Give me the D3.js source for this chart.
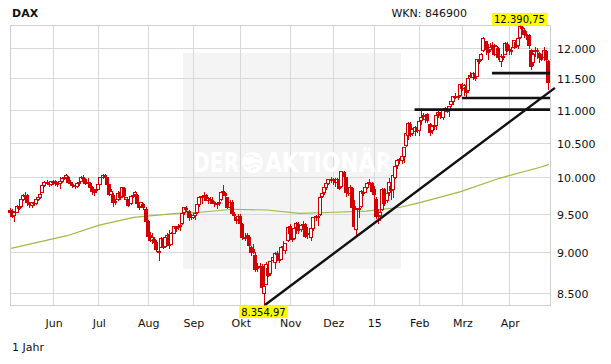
<!DOCTYPE html>
<html><head><meta charset="utf-8">
<script src="https://cdn.jsdelivr.net/npm/d3@7"></script>
<style>
body{margin:0;background:#fff}
svg{display:block}
text{font-family:"DejaVu Sans",Verdana,sans-serif}
</style>
</head><body>
<svg id="c" width="611" height="364"></svg>
<script>
// ---- calendar (trading days, Xetra) ----
const firstDay = "2014-05-05", lastDay = "2015-04-29";
const holidays = ["2014-12-24","2014-12-25","2014-12-26","2014-12-31","2015-01-01","2015-04-03","2015-04-06"];

// ---- daily OHLC (DAX) ----
const open = [
 9556,9540,9480,9530,9600,9600,9705,9755,9760,9650,9620,9660,9640,9700,9725,9800,9895,9940,9930,9910,
 9950,9945,9915,9925,9955,9990,10005,10010,9935,9900,9890,9880,9925,9950,10000,9980,9925,9920,9860,9800,9820,
 9840,9910,10000,10030,10000,9900,9770,9760,9670,9700,9790,9740,9850,9700,9680,9640,9740,9770,9760,9640,9600,9630,9570,
 9400,9220,9160,9170,9130,9000,9070,9170,9080,9200,9230,9110,9250,9320,9320,9350,9380,9520,9580,9540,9470,
 9460,9480,9520,9630,9720,9760,9760,9680,9700,9690,9650,9640,9640,9700,9810,9780,9720,9590,9660,9490,9450,9430,
 9470,9370,9180,9220,9200,9060,9040,8970,8800,8810,8830,8500,8610,8800,8740,8900,8880,8980,8960,8920,9070,9030,9150,
 9340,9250,9180,9320,9370,9300,9350,9360,9230,9250,9200,9310,9450,9460,9500,9740,9790,9860,9920,9980,
 9970,9950,9930,9980,9880,10080,10000,9790,9780,9850,9600,9300,9580,9600,9800,9800,9870,9940,9920,
 9830,9700,9480,9480,9560,9830,9680,9790,9880,9830,10000,10170,10240,10240,10300,10460,10610,10780,10650,10680,10740,
 10690,10840,10900,10850,10930,10780,10690,10770,10770,10930,10950,10890,11020,10990,10990,11080,11130,11220,11220,11230,
 11390,11340,11350,11300,11530,11520,11560,11540,11790,11820,11960,12110,11990,11980,12030,12040,11890,12000,11780,11860,11900,12070,
 11980,11960,12010,12100,12040,12190,12360,12300,12210,12210,11960,11760,11950,11960,11920,11850,11850,11940,11780
];
const high = [
 9572,9560,9540,9620,9625,9710,9770,9800,9770,9660,9665,9690,9705,9735,9775,9900,9945,9960,9945,9950,
 9965,9960,9940,10010,10000,10020,10050,10020,9960,9940,9920,9930,9950,10020,10030,9990,9990,9930,9880,9830,9860,
 9920,10010,10050,10040,10010,9910,9830,9780,9700,9810,9800,9870,9870,9730,9700,9740,9770,9810,9770,9660,9660,9650,9590,
 9420,9260,9240,9190,9160,9050,9200,9180,9210,9250,9290,9260,9340,9340,9370,9360,9520,9590,9600,9550,9490,
 9490,9520,9640,9740,9760,9790,9770,9720,9720,9720,9670,9660,9680,9810,9891,9790,9730,9680,9680,9520,9470,9490,
 9490,9380,9240,9250,9220,9080,9110,9000,8860,8860,8850,8610,8870,8830,8890,8950,9000,9010,8990,9080,9140,9120,9340,
 9370,9270,9330,9390,9390,9360,9400,9380,9330,9280,9310,9460,9480,9480,9740,9800,9870,9920,9980,10000,
 9990,9990,9990,10020,10093,10090,10010,9840,9890,9860,9680,9580,9600,9820,9850,9880,9930,9980,9930,
 9880,9720,9560,9560,9850,9850,9800,9990,9900,10040,10180,10250,10270,10310,10440,10660,10810,10810,10720,10750,10760,
 10840,10990,10950,10920,10950,10790,10770,10790,10930,10980,10960,11030,11040,11050,11060,11140,11220,11260,11250,11410,
 11420,11400,11370,11520,11600,11600,11580,11820,11850,11920,12180,12120,12060,12080,12090,12060,12040,12010,11900,11900,12100,12090,
 12050,12020,12140,12140,12180,12390.75,12380,12330,12280,12230,11980,11910,12020,11990,11930,11900,12010,11960,11790
];
const low = [
 9485,9450,9410,9520,9560,9595,9690,9735,9620,9590,9590,9620,9625,9680,9710,9795,9880,9910,9880,9890,
 9910,9890,9880,9850,9940,9980,9990,9920,9900,9860,9850,9860,9890,9945,9960,9900,9910,9850,9770,9760,9800,
 9830,9900,9990,9990,9890,9760,9740,9600,9630,9690,9700,9730,9740,9650,9600,9630,9720,9760,9620,9560,9590,9560,9390,
 9190,9140,9120,9050,9020,8903,9060,9050,9060,9170,9050,9100,9240,9270,9300,9290,9370,9500,9540,9420,9430,
 9440,9430,9510,9600,9640,9730,9680,9640,9640,9640,9600,9580,9620,9690,9790,9720,9580,9560,9500,9450,9380,9400,
 9360,9170,9150,9180,9070,8960,8990,8770,8760,8700,8550,8354.97,8600,8700,8720,8870,8800,8930,8880,8910,9050,8990,9140,
 9220,9140,9170,9240,9250,9270,9320,9200,9180,9200,9150,9290,9420,9350,9480,9720,9770,9840,9900,9940,
 9900,9880,9900,9840,9870,9990,9740,9750,9760,9580,9320,9219,9450,9590,9760,9790,9850,9900,9800,
 9700,9440,9380,9420,9550,9620,9660,9760,9700,9720,9990,10130,10200,10200,10220,10450,10560,10600,10620,10610,10660,
 10610,10780,10860,10810,10810,10610,10640,10700,10700,10890,10870,10860,10980,10960,10900,11060,11080,11180,11160,11220,
 11310,11230,11220,11270,11510,11480,11460,11530,11740,11800,11950,11900,11820,11940,11970,11880,11840,11810,11700,11820,11890,11940,
 11900,11900,11990,12010,12000,12170,12280,12190,12150,11990,11650,11710,11870,11830,11770,11790,11800,11790,11330
];
const close = [
 9529,9467,9521,9607,9581,9702,9754,9755,9656,9630,9659,9639,9697,9721,9768,9890,9940,9939,9902,9943,
 9950,9920,9926,9948,9987,10008,10028,9939,9929,9912,9883,9920,9935,10004,9987,9920,9938,9867,9804,9815,9833,
 9902,10003,10029,10009,9906,9772,9808,9659,9666,9783,9720,9859,9753,9720,9612,9734,9753,9797,9644,9593,9653,9593,9407,
 9210,9154,9189,9130,9038,9010,9180,9069,9199,9225,9092,9245,9334,9314,9339,9339,9510,9588,9569,9462,9470,
 9480,9507,9627,9724,9747,9758,9686,9710,9691,9651,9659,9632,9661,9798,9799,9749,9596,9662,9510,9490,9422,9474,
 9382,9195,9196,9209,9086,9005,9005,8788,8812,8825,8571,8582,8850,8717,8886,8940,8987,8988,8902,9068,9083,9114,9326,
 9252,9167,9315,9378,9291,9351,9369,9210,9249,9252,9307,9456,9473,9472,9733,9785,9861,9915,9975,9980,
 9963,9934,9972,9851,10087,10014,9793,9800,9862,9595,9334,9563,9564,9811,9787,9865,9922,9927,9806,
 9765,9473,9469,9518,9838,9648,9781,9941,9818,10032,10167,10242,10257,10299,10435,10649,10798,10628,10710,10738,10694,
 10828,10891,10911,10905,10846,10664,10753,10752,10919,10963,10924,11015,11000,11001,11050,11130,11206,11211,11210,11401,
 11345,11390,11280,11504,11551,11582,11500,11806,11799,11901,12167,11980,11922,12018,12040,11896,12024,11843,11865,11868,12086,11966,
 11969,11967,12124,12035,12166,12375,12338,12228,12227,12039,11689,11892,11958,11939,11837,11811,11967,11811,11432
];

// ---- 200-day moving average (read at points) ----
const maDates  = ["2014-05-05","2014-06-10","2014-07-01","2014-07-23","2014-08-20","2014-09-04","2014-09-25","2014-10-17","2014-11-07","2014-12-01","2014-12-22","2015-01-20","2015-02-02","2015-02-27","2015-03-25","2015-04-23","2015-04-29"];
const maValues = [9049,9211,9350,9452,9506,9520,9560,9550,9506,9520,9536,9587,9649,9800,9986,10142,10184];

// ---- drawn support lines ----
const levelValues = [11000, 11180, 11580];
const levelStarts = ["2015-01-29","2015-03-02","2015-03-20"];
const trendDates  = ["2014-10-16","2015-04-29"];
const trendValues = [8354.97, 11270];

// ---- axes ----
const yTicks = [8500,9000,9500,10000,10500,11000,11500,12000];
const monthTicks  = ["2014-06-02","2014-07-01","2014-08-01","2014-09-01","2014-10-01","2014-11-03","2014-12-01","2015-01-02","2015-02-02","2015-03-02","2015-04-01"];
const monthLabels = ["Jun","Jul","Aug","Sep","Okt","Nov","Dez","15","Feb","Mrz","Apr"];

// ---- build ----
const fmtDay = d3.utcFormat("%Y-%m-%d");
const parse = d3.utcParse("%Y-%m-%d");
const dates = d3.utcDay.range(parse(firstDay), d3.utcDay.offset(parse(lastDay),1))
  .filter(d => d.getUTCDay()!==0 && d.getUTCDay()!==6 && !holidays.includes(fmtDay(d)))
  .map(fmtDay);

const de = d3.formatLocale({decimal:",", thousands:".", grouping:[3], currency:["","€"]});
const fInt = de.format(",.0f"), fDec = de.format(",.2f");

const L=10, R=550, T=25, B=305;
const x = d3.scaleBand().domain(dates).range([L,R]).padding(0);
const cx = d => x(d) + x.bandwidth()/2;
const yMin = d3.min(low), yMax = d3.max(high);
const y = d3.scaleLog().domain([yMin, yMax]).range([B, T]);

const svg = d3.select("#c");
const red = "#d00000";

// watermark panel
svg.append("rect").attr("x",183).attr("y",53).attr("width",218).attr("height",216).attr("fill","#f4f4f4");

// grid
const grid = svg.append("g").attr("stroke","#d8d8d8").attr("shape-rendering","crispEdges");
grid.selectAll("line.h").data(yTicks).join("line").attr("class","h")
  .attr("x1",L).attr("x2",R).attr("y1",d=>Math.round(y(d))+0.5).attr("y2",d=>Math.round(y(d))+0.5);
grid.selectAll("line.v").data(monthTicks).join("line").attr("class","v")
  .attr("y1",T).attr("y2",B).attr("x1",d=>Math.round(cx(d))-0.5).attr("x2",d=>Math.round(cx(d))-0.5);
svg.append("rect").attr("x",L+0.5).attr("y",T+0.5).attr("width",R-L).attr("height",B-T)
  .attr("fill","none").attr("stroke","#cfcfcf").attr("shape-rendering","crispEdges");

// watermark text
const wm = svg.append("g").attr("fill","#fff").attr("font-weight","bold");
wm.append("text").attr("x",193).attr("y",172).attr("font-size",26)
  .attr("textLength",46).attr("lengthAdjust","spacingAndGlyphs").text("DER");
wm.append("circle").attr("cx",252.5).attr("cy",162.5).attr("r",10.5);
wm.append("path").attr("d","M246,157 q4,-3 8,0 q3,3 6,1 M245,165 q5,2 8,-1 q3,-2 7,1 M251,170 q2,-3 5,-2")
  .attr("fill","none").attr("stroke","#f0f0f0").attr("stroke-width",1.5);
wm.append("text").attr("x",265).attr("y",172).attr("font-size",26)
  .attr("textLength",127).attr("lengthAdjust","spacingAndGlyphs").text("AKTIONÄR");

// moving average
svg.append("path").datum(maDates.map((d,i)=>[cx(d), y(maValues[i])]))
  .attr("d", d3.line()).attr("fill","none").attr("stroke","#9dbb45").attr("stroke-width",1.2);

// candles
const cg = svg.append("g").attr("shape-rendering","crispEdges");
dates.forEach((d,i)=>{
  const r = Math.round(cx(d)) - 1;
  const up = close[i] >= open[i];
  cg.append("line").attr("x1",r+0.5).attr("x2",r+0.5)
    .attr("y1",Math.round(y(high[i]))).attr("y2",Math.round(y(low[i]))+1)
    .attr("stroke",red).attr("stroke-width",1);
  const yt = Math.round(y(Math.max(open[i],close[i]))), yb = Math.round(y(Math.min(open[i],close[i])));
  cg.append("rect").attr("x",r-1.5).attr("y",yt+0.5).attr("width",3).attr("height",Math.max(yb-yt,1))
    .attr("fill",up?"#fff":red).attr("stroke",red).attr("stroke-width",1);
});

// support / trend lines
const lv = svg.append("g").attr("stroke","#111").attr("stroke-width",2.6);
lv.selectAll("line").data(levelValues).join("line")
  .attr("x1",(d,i)=>cx(levelStarts[i])-1).attr("x2",R)
  .attr("y1",d=>y(d)).attr("y2",d=>y(d));
{
  const x1=cx(trendDates[0]), y1=y(trendValues[0]), x2=cx(trendDates[1]), y2=y(trendValues[1]);
  const k = (x2 - x1 + 6)/(x2 - x1);
  lv.append("line").attr("x1",x1).attr("y1",y1)
    .attr("x2",x1+(x2-x1)*k).attr("y2",y1+(y2-y1)*k).attr("stroke-width",2.4);
}

// axes
const ya = svg.append("g").attr("transform",`translate(${R},0)`)
  .call(d3.axisRight(y).tickValues(yTicks).tickFormat(fInt).tickSize(0).tickPadding(7));
ya.select(".domain").remove();
ya.selectAll("text").attr("font-size",11).attr("font-family","DejaVu Sans").attr("fill","#111").attr("dy","0.42em");

const xa = svg.append("g").attr("transform",`translate(0,${B})`)
  .call(d3.axisBottom(x).tickValues(monthTicks).tickFormat((d,i)=>monthLabels[i]).tickSize(0).tickPadding(14));
xa.select(".domain").remove();
xa.selectAll("text").attr("font-size",11).attr("font-family","DejaVu Sans").attr("fill","#111");

// titles
svg.append("text").attr("x",12).attr("y",17).attr("font-size",11).attr("font-weight","bold").attr("fill","#111").text("DAX");
svg.append("text").attr("x",467).attr("y",17).attr("font-size",11).attr("text-anchor","end").attr("fill","#111").text("WKN: 846900");
svg.append("text").attr("x",12).attr("y",351).attr("font-size",11).attr("fill","#111").text("1 Jahr");

// extreme labels
function badge(dateKey, val, ty){
  const g = svg.append("g");
  const t = g.append("text").attr("x",cx(dateKey)-1.5).attr("y",ty).attr("font-size",10)
    .attr("text-anchor","middle").attr("fill","#000").text(fDec(val));
  const bb = t.node().getBBox();
  g.insert("rect","text").attr("x",bb.x-2).attr("y",ty-10).attr("width",bb.width+4).attr("height",12.5).attr("fill","#ffff00");
}
const iMax = high.indexOf(yMax), iMin = low.indexOf(yMin);
badge(dates[iMax], yMax, 23);
badge(dates[iMin], yMin, 315.5);
</script>
</body></html>
